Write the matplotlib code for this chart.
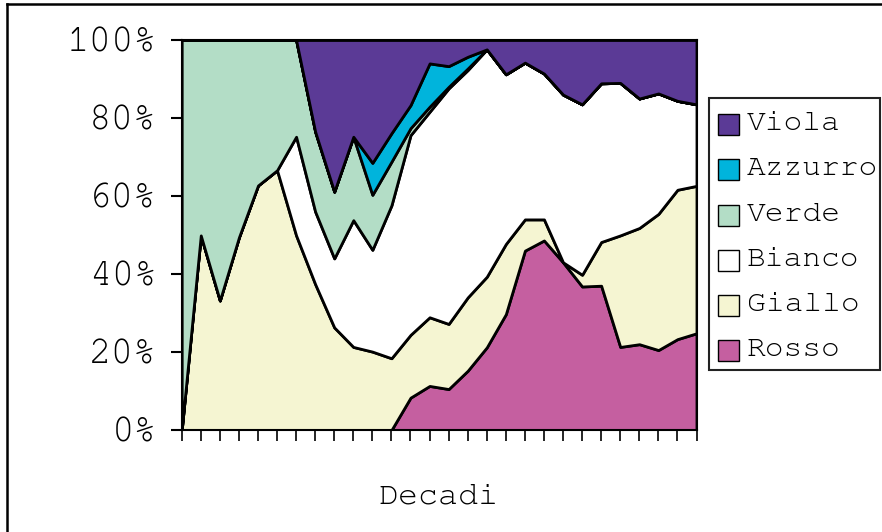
import numpy as np
import matplotlib
matplotlib.use('Agg')
import matplotlib.pyplot as plt
from matplotlib.patches import Rectangle
from matplotlib.lines import Line2D
from matplotlib.transforms import Bbox


# share of each colour per decade (percent), bottom to top of the stack
rosso = [0, 0, 0, 0, 0, 0, 0, 0, 0, 0, 0, 0, 8.3, 11.3, 10.5, 15.2, 21.2, 29.7,
         46.0, 48.6, 43.0, 36.8, 37.0, 21.3, 22.0, 20.5, 23.3, 24.8]
giallo = [0, 49.9, 33.2, 49.4, 62.7, 66.6, 49.9, 37.4, 26.3, 21.3, 20.1, 18.4,
          16.1, 17.6, 16.7, 18.8, 18.1, 18.0, 8.0, 5.4, 0, 3.0, 11.2, 28.6,
          29.8, 34.9, 38.3, 37.8]
bianco = [0, 0, 0, 0, 0, 0, 25.3, 18.6, 17.7, 32.5, 26.1, 39.2, 51.2, 52.7,
          60.4, 58.3, 58.3, 43.5, 40.2, 37.4, 43.0, 43.7, 40.7, 39.1, 33.2,
          30.9, 22.8, 20.9]
verde = [100, 50.1, 66.8, 50.6, 37.3, 33.4, 24.8, 20.5, 17.1, 21.4, 14.1, 11.2,
         1.8, 1.3, 0.4, 0.4, 0, 0, 0, 0, 0, 0, 0, 0, 0, 0, 0, 0]
azzurro = [0, 0, 0, 0, 0, 0, 0, 0, 0, 0, 8.2, 7.3, 5.9, 11.1, 5.3, 3.0, 0, 0,
           0, 0, 0, 0, 0, 0, 0, 0, 0, 0]
viola = [0, 0, 0, 0, 0, 0, 0, 23.5, 38.9, 24.8, 31.5, 23.9, 16.7, 6.0, 6.7,
         4.3, 2.4, 8.8, 5.8, 8.6, 14.0, 16.5, 11.1, 11.0, 15.0, 13.7, 15.6, 16.5]

names = ['Rosso', 'Giallo', 'Bianco', 'Verde', 'Azzurro', 'Viola']
colors = ['#C55FA0', '#F5F5D2', '#FFFFFF', '#B3DDC6', '#00B4DC', '#5B3A96']
yticks = [0, 20, 40, 60, 80, 100]
ylabels = ['0%', '20%', '40%', '60%', '80%', '100%']

W, H = 882, 532
mono = ['Courier New', 'Nimbus Mono PS', 'FreeMono', 'Liberation Mono']

fig = plt.figure(figsize=(W / 100, H / 100), dpi=100)
ax = fig.add_axes([181.7 / W, 1 - 430 / H, (696.5 - 181.7) / W, 390 / H])

x = np.arange(len(rosso))
ax.stackplot(x, rosso, giallo, bianco, verde, azzurro, viola,
             colors=colors, edgecolor='black', linewidth=2.0)

ax.set_xlim(0, len(rosso) - 1)
ax.set_ylim(0, 100)
ax.set_xticks(x)
ax.set_xticklabels([])
ax.set_yticks(yticks)
ax.set_yticklabels(ylabels, fontfamily=mono, fontsize=27)
ax.tick_params(axis='x', direction='out', length=8, width=1.2)
ax.tick_params(axis='y', direction='out', length=8, width=1.5, pad=10)
for s in ax.spines.values():
    s.set_linewidth(1.5)

fig.text(439 / W, 1 - 497 / H, 'Decadi', ha='center', va='center',
         fontfamily=mono, fontsize=24)

# outer chart frame (only left and top edges fall inside the image)
fig.add_artist(Line2D([7 / W, 7 / W], [0, 1 - 4 / H], color='black',
                      linewidth=1.8, transform=fig.transFigure))
fig.add_artist(Line2D([7 / W, 1], [1 - 4 / H, 1 - 4 / H], color='black',
                      linewidth=1.8, transform=fig.transFigure))

# legend box, drawn by hand so the long label is cut at the frame
lx0, ly0, lx1, ly1 = 709, 98, 880, 370
box = Rectangle((lx0 / W, 1 - ly1 / H), (lx1 - lx0) / W, (ly1 - ly0) / H,
                transform=fig.transFigure, facecolor='white',
                edgecolor='#222222', linewidth=1.5)
fig.add_artist(box)
clip = Bbox.from_extents(lx0, H - ly1, lx1, H - ly0)
rows_y = [124, 169, 215, 260, 305, 350]
for name, col, ry in zip(names[::-1], colors[::-1], rows_y):
    sq = 21
    fig.add_artist(Rectangle((718 / W, 1 - (ry + sq / 2) / H), sq / W, sq / H,
                             transform=fig.transFigure, facecolor=col,
                             edgecolor='black', linewidth=1.0))
    t = fig.text(747 / W, 1 - ry / H, name, ha='left', va='center',
                 fontfamily=mono, fontsize=22.5)
    t.set_clip_box(clip)
    t.set_clip_on(True)

fig.savefig('out.png', dpi=100)
